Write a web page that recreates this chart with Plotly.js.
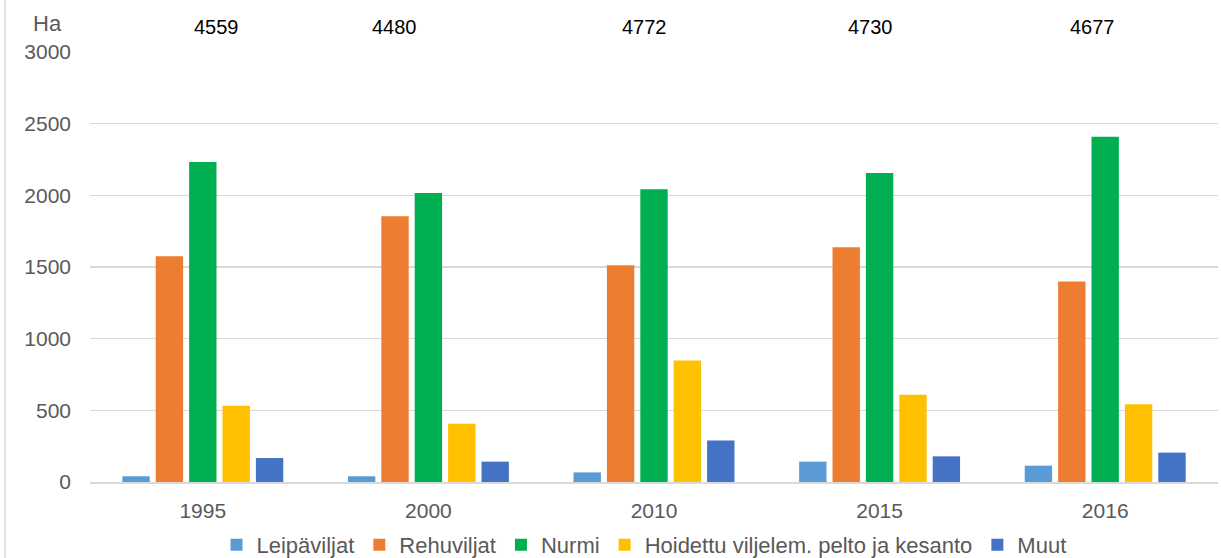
<!DOCTYPE html>
<html>
<head>
<meta charset="utf-8">
<script src="https://cdn.plot.ly/plotly-3.0.1.min.js"></script>
<style>html,body{margin:0;padding:0;background:#fff}#chart{width:1221px;height:558px}</style>
</head>
<body>
<div id="chart"></div>
<script>
const years = ['1995', '2000', '2010', '2015', '2016'];
const leipaviljat = [40, 40, 67, 142, 114];
const rehuviljat = [1575, 1854, 1513, 1638, 1399];
const nurmi = [2232, 2016, 2042, 2155, 2408];
const hoidettu = [532, 406, 847, 608, 543];
const muut = [167, 142, 290, 179, 205];
const totals = [4559, 4480, 4772, 4730, 4677];
const seriesNames = ['Leipäviljat', 'Rehuviljat', 'Nurmi', 'Hoidettu viljelem. pelto ja kesanto', 'Muut'];
const seriesColors = ['#5B9BD5', '#ED7D31', '#00B050', '#FFC000', '#4472C4'];
const seriesValues = [leipaviljat, rehuviljat, nurmi, hoidettu, muut];

// layout: hand-placed offsets of the total labels (in category units)
const totalLabelShift = [0.06, -0.15, -0.04, -0.04, -0.055];

const font = 'Liberation Sans, Arial, sans-serif';
const W = 1221, H = 558, ML = 90, MR = 3, MT = 52, MB = 76;
const PW = W - ML - MR, PH = H - MT - MB;

const traces = seriesValues.map((vals, i) => ({
  type: 'bar', x: years, y: vals, name: seriesNames[i],
  marker: {color: seriesColors[i], line: {width: 0}},
  hoverinfo: 'x+y+name'
}));

const annotations = years.map((y, i) => ({
  x: i + totalLabelShift[i], xref: 'x', y: 1 + 25 / PH, yref: 'paper', yanchor: 'middle', xanchor: 'center',
  text: String(totals[i]), showarrow: false, font: {family: font, size: 20, color: '#000000'}
}));
annotations.push({
  x: (47 - ML) / PW, xref: 'paper', xanchor: 'center', y: 1 + 28 / PH, yref: 'paper', yanchor: 'middle',
  text: 'Ha', showarrow: false, font: {family: font, size: 22, color: '#595959'}
});

const layout = {
  width: W, height: H,
  margin: {l: ML, r: MR, t: MT, b: MB, autoexpand: false},
  paper_bgcolor: '#ffffff', plot_bgcolor: '#ffffff',
  font: {family: font, color: '#595959', size: 21},
  barmode: 'group', bargap: 0.26, bargroupgap: 0.18,
  showlegend: true,
  legend: {orientation: 'h', x: (644 - ML) / PW, xanchor: 'center', y: -(545 - MT - PH) / PH, yanchor: 'middle',
           bgcolor: 'rgba(0,0,0,0)', font: {family: font, size: 22, color: '#595959'}, itemwidth: 30, tracegroupgap: 0},
  xaxis: {type: 'category', showgrid: false, showline: true, linecolor: '#d9d9d9', linewidth: 1.5,
          range: [-0.5, 4.5], ticks: '', tickfont: {family: font, size: 21, color: '#595959'}, ticklabelstandoff: 9},
  yaxis: {range: [0, 3000], dtick: 500, tick0: 0, showgrid: true, gridcolor: '#d9d9d9', gridwidth: 1.5,
          zeroline: false, showline: false, ticks: '', tickfont: {family: font, size: 21, color: '#595959'},
          ticklabelstandoff: 18},
  annotations: annotations,
  shapes: [{type: 'line', xref: 'paper', yref: 'paper', x0: (5 - ML) / PW, x1: (5 - ML) / PW,
            y0: -MB / PH, y1: (PH + MT) / PH, line: {color: '#d9d9d9', width: 1.5}}]
};

Plotly.newPlot('chart', traces, layout, {displayModeBar: false, staticPlot: true});
</script>
</body>
</html>
